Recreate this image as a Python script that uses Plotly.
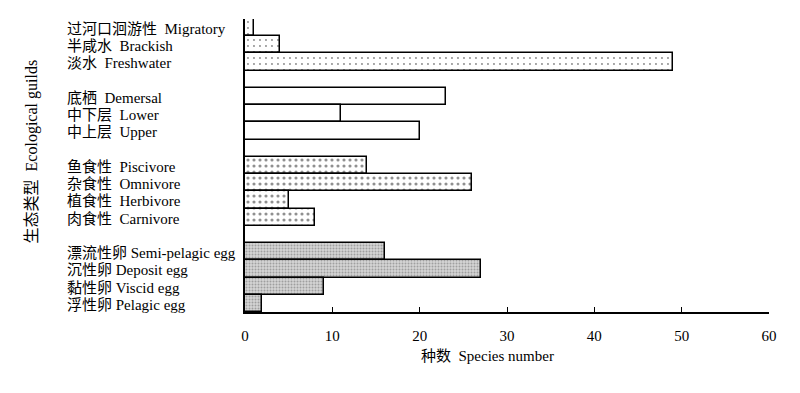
import plotly.graph_objects as go

# ---- data (top to bottom) ----
guild_labels = [
    "过河口洄游性\u00a0\u00a0Migratory", "半咸水\u00a0\u00a0Brackish", "淡水\u00a0\u00a0Freshwater",
    "底栖\u00a0\u00a0Demersal", "中下层\u00a0\u00a0Lower", "中上层\u00a0\u00a0Upper",
    "鱼食性\u00a0\u00a0Piscivore", "杂食性\u00a0\u00a0Omnivore", "植食性\u00a0\u00a0Herbivore", "肉食性\u00a0\u00a0Carnivore",
    "漂流性卵 Semi-pelagic egg", "沉性卵 Deposit egg", "黏性卵 Viscid egg", "浮性卵 Pelagic egg",
]
species_counts = [1, 4, 49, 23, 11, 20, 14, 26, 5, 8, 16, 27, 9, 2]
guild_group = ["habitat", "habitat", "habitat",
               "position", "position", "position",
               "feeding", "feeding", "feeding", "feeding",
               "egg", "egg", "egg", "egg"]
x_ticks = [0, 10, 20, 30, 40, 50, 60]

FONT = "Liberation Serif, Times New Roman, Noto Sans CJK SC, serif"

# compute slot positions: one empty slot between groups
pos = []
slot = 0
prev = None
for g in guild_group:
    if prev is not None and g != prev:
        slot += 1
    pos.append(slot)
    slot += 1
    prev = g
top = pos[-1]
ypos = [top - p for p in pos]

styles = {
    "habitat": dict(color="white", pattern=dict(shape=".", size=6, solidity=0.08, fgcolor="#111", bgcolor="white")),
    "position": dict(color="white"),
    "feeding": dict(color="white", pattern=dict(shape=".", size=6, solidity=0.22, fgcolor="#222", bgcolor="white")),
    "egg": dict(color="#b5b5b5", pattern=dict(shape=".", size=3, solidity=0.35, fgcolor="#6a6a6a", bgcolor="#d4d4d4")),
}

fig = go.Figure()
for grp in ["habitat", "position", "feeding", "egg"]:
    idx = [i for i, g in enumerate(guild_group) if g == grp]
    st = styles[grp]
    marker = dict(color=st["color"], line=dict(color="black", width=1.5))
    if "pattern" in st:
        marker["pattern"] = st["pattern"]
    fig.add_trace(go.Bar(
        orientation="h",
        x=[species_counts[i] for i in idx],
        y=[ypos[i] for i in idx],
        width=1.0,
        marker=marker,
        showlegend=False,
        hoverinfo="x",
    ))

annotations = []
for i, lab in enumerate(guild_labels):
    annotations.append(dict(
        text=lab, x=-0.343, xref="paper", xanchor="left",
        y=ypos[i] - 0.08, yref="y", yanchor="middle", showarrow=False,
        font=dict(family=FONT, size=15, color="black"),
    ))
annotations.append(dict(
    text="生态类型\u00a0\u00a0Ecological guilds", textangle=-90,
    x=-0.406, xref="paper", xanchor="center",
    y=0.549, yref="paper", yanchor="middle", showarrow=False,
    font=dict(family=FONT, size=16, color="black"),
))
annotations.append(dict(
    text="种数\u00a0\u00a0Species number",
    x=0.462, xref="paper", xanchor="center",
    y=-0.15, yref="paper", yanchor="middle", showarrow=False,
    font=dict(family=FONT, size=15, color="black"),
))

fig.update_layout(
    width=792, height=385,
    margin=dict(l=237, r=31, t=11, b=81),
    paper_bgcolor="white", plot_bgcolor="white",
    bargap=0,
    annotations=annotations,
    font=dict(family=FONT, size=14, color="black"),
)
fig.update_xaxes(
    range=[0, 60], tickvals=x_ticks, ticktext=[str(v) for v in x_ticks],
    showline=True, linecolor="black", linewidth=1.5,
    ticks="inside", ticklen=5, tickwidth=1.2, tickcolor="black",
    ticklabelstandoff=9,
    showgrid=False, zeroline=False,
    tickfont=dict(family=FONT, size=15, color="black"),
)
fig.update_yaxes(
    range=[-0.5, top + 0.5],
    showline=True, linecolor="black", linewidth=1.5,
    showticklabels=False, ticks="",
    showgrid=False, zeroline=False,
)

fig.write_html("out.html")
